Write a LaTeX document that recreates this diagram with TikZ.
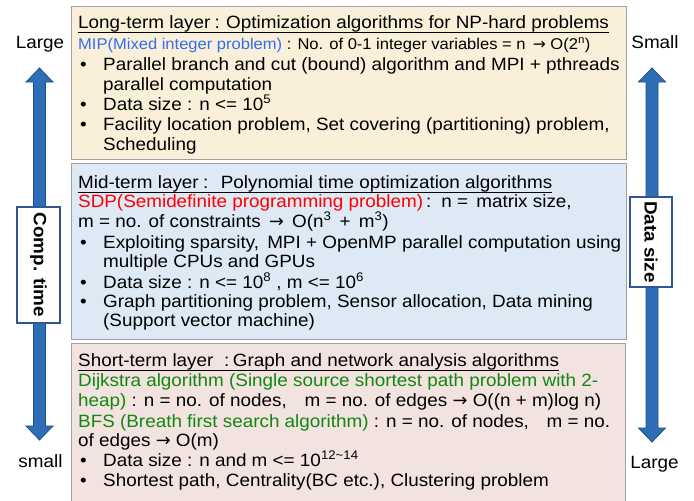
\documentclass[tikz,border=0pt]{standalone}
\usepackage{fontspec}
\setmainfont[FakeStretch=1.06]{Liberation Sans}
\newfontfamily\symfont{DejaVu Sans}
\usetikzlibrary{calc}
\definecolor{topfill}{RGB}{250,240,218}
\definecolor{midfill}{RGB}{221,234,246}
\definecolor{shortfill}{RGB}{243,227,224}
\definecolor{boxgray}{RGB}{160,160,160}
\definecolor{mipblue}{RGB}{50,110,240}
\definecolor{dgreen}{RGB}{16,136,16}
\definecolor{arrfill}{RGB}{46,110,182}
\definecolor{arrline}{RGB}{31,79,138}
\definecolor{lblline}{RGB}{47,85,151}
\newcommand{\mainsz}{\fontsize{17.8}{20}\selectfont}
\newcommand{\smallsz}{\fontsize{15.6}{18}\selectfont}
\newcommand{\rarr}{{\symfont →}}
\begin{document}
\begin{tikzpicture}[x=1pt,y=-1pt,
  ln/.style={anchor=base west, inner sep=0pt, font=\mainsz},
  bul/.style={anchor=base west, inner sep=0pt, font=\mainsz},
  ul/.style={line width=0.9pt, black},
  layer/.style={draw=boxgray, line width=0.8pt, anchor=north west, inner sep=0pt},
  blockarrow/.style={fill=arrfill, draw=arrline, line width=0.8pt},
  lbl/.style={draw=lblline, line width=1.5pt, fill=white, rotate=-90, inner sep=0pt, font=\mainsz\bfseries},
  side/.style={anchor=base, inner sep=0pt, font=\mainsz}]
\useasboundingbox (0,0) rectangle (694,501);
\clip (0,0) rectangle (694,501);
\fill[white] (0,0) rectangle (694,501);
% layer boxes
\node[layer, fill=topfill, minimum width=555pt, minimum height=153pt] (longbox) at (71,6) {};
\node[layer, fill=midfill, minimum width=555pt, minimum height=176pt] (midbox) at (71,163) {};
\node[layer, fill=shortfill, minimum width=554pt, minimum height=170pt] (shortbox) at (71,343) {};
% block arrows
\draw[blockarrow] (39.5,68) -- (53,82) -- (45.5,82) -- (45.5,426) -- (53,426) -- (39.5,440) -- (26,426) -- (33.5,426) -- (33.5,82) -- (26,82) -- cycle;
\draw[blockarrow] (652,68) -- (665.5,82) -- (658,82) -- (658,428) -- (665.5,428) -- (652,442) -- (638.5,428) -- (646,428) -- (646,82) -- (638.5,82) -- cycle;
\node[lbl, minimum width=116pt, minimum height=43pt] (comp) at (38.5,265) {Comp. time};
\node[lbl, minimum width=90pt, minimum height=42pt] (dsize) at (651,242) {Data size};
\node[side] (lL) at (40,48) {Large};
\node[side] (lS) at (40.5,467) {small};
\node[side] (rS) at (655,48) {Small};
\node[side] (rL) at (654.5,468) {Large};
% long-term
\node[ln] (t1) at (78,28) {Long-term layer\hspace{0.25em}:\hspace{0.35em}Optimization algorithms for NP-hard problems};
\draw[ul] ($(t1.base west)+(0,4)$) -- ($(t1.base east)+(0,4)$);
\node[ln, font=\smallsz] (t2) at (78,49) {\textcolor{mipblue}{MIP(Mixed integer problem)} : No. of 0-1 integer variables = n \,\rarr\ O(2\textsuperscript{n})};
\node[bul] (t3b) at (80,70) {•};
\node[ln] (t3) at (103,70) {Parallel branch and cut (bound) algorithm and MPI + pthreads};
\node[ln] (t4) at (103,90) {parallel computation};
\node[bul] (t5b) at (80,110) {•};
\node[ln] (t5) at (103,110) {Data size : n <= 10\textsuperscript{5}};
\node[bul] (t6b) at (80,130) {•};
\node[ln] (t6) at (103,130) {Facility location problem, Set covering (partitioning) problem,};
\node[ln] (t7) at (103,150) {Scheduling};
% mid-term
\node[ln] (m1) at (78,188) {Mid-term layer\hspace{0.25em}:\hspace{0.7em}Polynomial time optimization algorithms};
\draw[ul] ($(m1.base west)+(0,4)$) -- ($(m1.base east)+(0,4)$);
\node[ln] (m2) at (78,207) {\textcolor{red}{SDP(Semidefinite programming problem)}\,:\, n =\, matrix size,};
\node[ln] (m3) at (78,227) {m = no. of constraints \,\rarr\, O(n\textsuperscript{3} \,+\, m\textsuperscript{3})};
\node[bul] (m4b) at (80,248) {•};
\node[ln] (m4) at (103,248) {Exploiting sparsity,\, MPI + OpenMP parallel computation using};
\node[ln] (m5) at (103,267) {multiple CPUs and GPUs};
\node[bul] (m6b) at (80,288) {•};
\node[ln] (m6) at (103,288) {Data size : n <= 10\textsuperscript{8} , m <= 10\textsuperscript{6}};
\node[bul] (m7b) at (80,307) {•};
\node[ln] (m7) at (103,307) {Graph partitioning problem, Sensor allocation, Data mining};
\node[ln] (m8) at (103,326) {(Support vector machine)};
% short-term
\node[ln] (s1) at (78,366) {Short-term layer\hspace{0.6em}:\hspace{0.2em}Graph and network analysis algorithms};
\draw[ul] ($(s1.base west)+(0,4)$) -- ($(s1.base east)+(0,4)$);
\node[ln] (s2) at (78,386) {\textcolor{dgreen}{Dijkstra algorithm (Single source shortest path problem with 2-}};
\node[ln] (s3) at (78,406) {\textcolor{dgreen}{heap)} : n = no. of nodes,\quad m = no. of edges \rarr\ O((n + m)log n)};
\node[ln] (s4) at (78,427) {\textcolor{dgreen}{BFS (Breath first search algorithm)} : n = no. of nodes,\quad m = no.};
\node[ln] (s5) at (78,446) {of edges \rarr\ O(m)};
\node[bul] (s6b) at (80,466) {•};
\node[ln] (s6) at (103,466) {Data size : n and m <= 10\textsuperscript{12\textasciitilde 14}};
\node[bul] (s7b) at (80,486) {•};
\node[ln] (s7) at (103,486) {Shortest path, Centrality(BC etc.), Clustering problem};
\end{tikzpicture}
\end{document}
